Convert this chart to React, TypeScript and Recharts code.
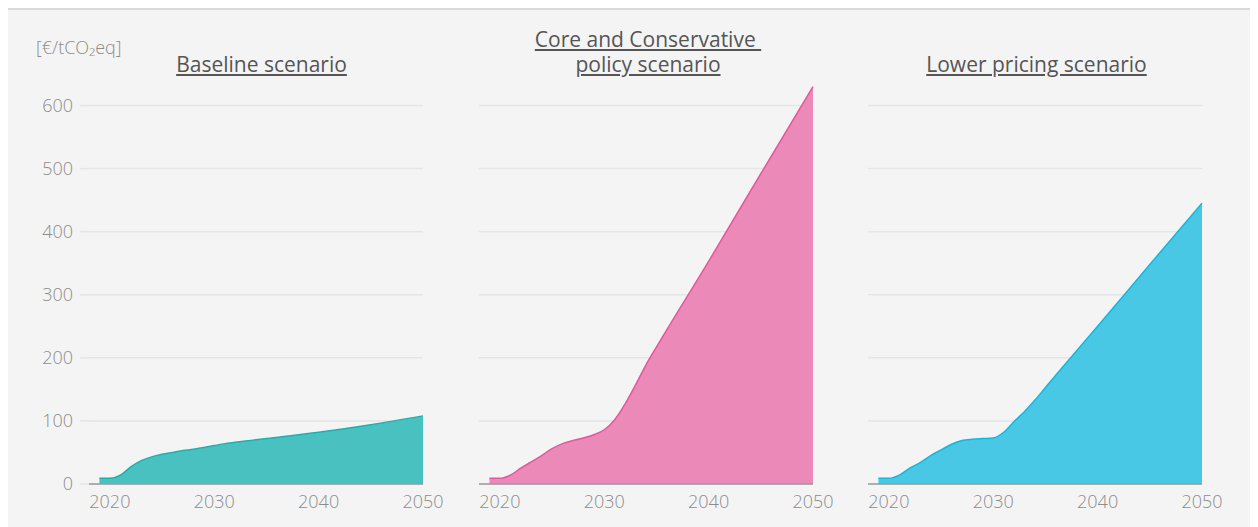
import { AreaChart, Area, XAxis, YAxis, CartesianGrid } from 'recharts';

const years = [2019, 2020, 2021, 2022, 2023, 2024, 2025, 2026, 2027, 2028, 2029, 2030, 2031, 2032, 2033, 2034, 2035, 2040, 2045, 2050];
const baseline = [9, 9, 14, 27, 37, 43, 47, 50, 53, 55, 58, 61, 64, 66, 68, 70, 72, 82, 94, 108];
const core = [9, 9, 14, 25, 35, 45, 56, 64, 69, 73, 78, 86, 102, 127, 157, 189, 217, 353, 492, 630];
const lower = [9, 9, 14, 25, 34, 45, 54, 63, 69, 71, 72, 73, 82, 99, 115, 133, 153, 250, 348, 445];

const xTicks = [2020, 2030, 2040, 2050];
const yTicks = [0, 100, 200, 300, 400, 500, 600];

const tickStyle = { fill: '#8c8c8c', fontSize: 18, fontFamily: 'Open Sans', fontWeight: 300 };

type PanelProps = {
  values: number[];
  stroke: string;
  fill: string;
  left: number;
  showY?: boolean;
};

const Panel = ({ values, stroke, fill, left, showY }: PanelProps) => {
  const rows = years.map((year, i) => ({ year, value: values[i] }));
  const margin = showY
    ? { top: 64, right: 20, bottom: 5, left: 21 }
    : { top: 64, right: 20, bottom: 5, left: 10 };
  return (
    <div style={{ position: 'absolute', left, top: 0 }}>
      <AreaChart width={showY ? 435 : 364} height={509} data={rows} margin={margin}>
        <CartesianGrid vertical={false} horizontalValues={yTicks} stroke="#e3e6e6" strokeWidth={1.5} />
        <XAxis
          dataKey="year"
          type="number"
          domain={[2018, 2050]}
          ticks={xTicks}
          tickLine={false}
          tickMargin={5}
          axisLine={{ stroke: '#9a9a9a', strokeWidth: 1.5 }}
          tick={tickStyle}
          height={30}
        />
        <YAxis
          domain={[0, 650]}
          ticks={yTicks}
          hide={!showY}
          width={showY ? 60 : 0}
          axisLine={false}
          tickSize={9}
          tickMargin={7}
          tickLine={{ stroke: '#e3e6e6', strokeWidth: 1.5 }}
          tick={tickStyle}
        />
        <Area
          type="monotone"
          dataKey="value"
          stroke={stroke}
          strokeWidth={1.5}
          fill={fill}
          fillOpacity={1}
          dot={false}
          activeDot={false}
          isAnimationActive={false}
        />
      </AreaChart>
    </div>
  );
};

const titleStyle = {
  position: 'absolute' as const,
  fontFamily: 'Open Sans',
  fontSize: 21,
  color: '#555',
  textDecoration: 'underline',
  textAlign: 'center' as const,
  width: 300,
  lineHeight: '25px',
  whiteSpace: 'pre' as const,
};

export default function App() {
  return (
    <div
      style={{
        position: 'relative',
        width: 1250,
        height: 517,
        background: '#f4f4f4',
        borderTop: '2px solid #d9d9d9',
        fontFamily: 'Open Sans',
      }}
    >
      <div style={{ position: 'absolute', left: 28, top: 26, fontSize: 18, fontWeight: 300, lineHeight: '22px', color: '#8c8c8c' }}>
        [€/tCO₂eq]
      </div>
      <div style={{ ...titleStyle, left: 253.5 - 150, top: 42 }}>Baseline scenario</div>
      <div style={{ ...titleStyle, left: 640 - 150, top: 17 }}>
        {'Core and Conservative \npolicy scenario'}
      </div>
      <div style={{ ...titleStyle, left: 1028.5 - 150, top: 42 }}>Lower pricing scenario</div>

      <Panel values={baseline} stroke="#1fb0ad" fill="#49c1c1" left={0} showY />
      <Panel values={core} stroke="#e4589a" fill="#eb89b8" left={461} />
      <Panel values={lower} stroke="#15b7dc" fill="#49c8e6" left={850} />
    </div>
  );
}
